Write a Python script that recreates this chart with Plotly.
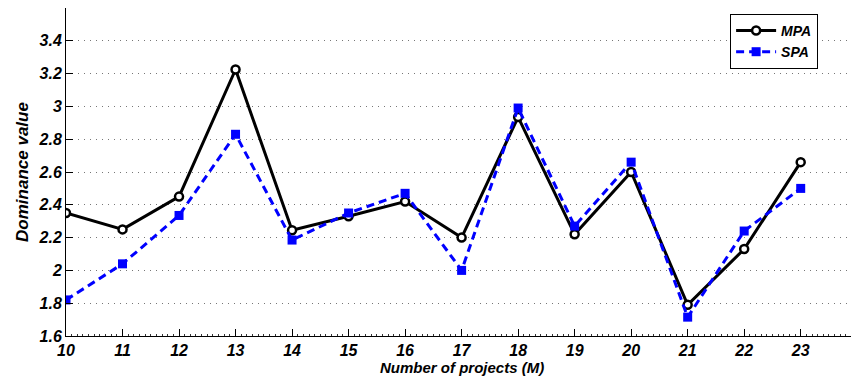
import plotly.graph_objects as go

projects = [10, 11, 12, 13, 14, 15, 16, 17, 18, 19, 20, 21, 22, 23]
mpa = [2.35, 2.25, 2.45, 3.225, 2.245, 2.33, 2.42, 2.20, 2.935, 2.22, 2.60, 1.79, 2.13, 2.66]
spa = [1.82, 2.04, 2.335, 2.83, 2.185, 2.35, 2.47, 2.00, 2.99, 2.27, 2.66, 1.715, 2.24, 2.50]
y_ticks = [1.6, 1.8, 2.0, 2.2, 2.4, 2.6, 2.8, 3.0, 3.2, 3.4]
y_tick_text = ["1.6", "1.8", "2", "2.2", "2.4", "2.6", "2.8", "3", "3.2", "3.4"]

FONT = "Liberation Sans, Arial, sans-serif"

fig = go.Figure()
fig.add_trace(go.Scatter(
    x=projects, y=mpa, name="MPA", mode="lines+markers",
    line=dict(color="black", width=3),
    marker=dict(symbol="circle", size=8, color="white",
                line=dict(color="black", width=2.5)),
))
fig.add_trace(go.Scatter(
    x=projects, y=spa, name="SPA", mode="lines+markers",
    line=dict(color="#0000ff", width=3, dash="8px,5px"),
    marker=dict(symbol="square", size=9, color="#0000ff",
                line=dict(color="#0000ff", width=0)),
))

fig.update_layout(
    width=851, height=376,
    margin=dict(l=66, r=0, t=8, b=40, autoexpand=False),
    paper_bgcolor="white", plot_bgcolor="white",
    font=dict(family=FONT, size=16, color="black", weight="bold", style="italic"),
    showlegend=True,
    legend=dict(
        x=0.846, y=0.982, xanchor="left", yanchor="top",
        bgcolor="white", bordercolor="black", borderwidth=1,
        font=dict(family=FONT, size=14, color="black", weight="bold", style="italic"),
        tracegroupgap=0, itemwidth=40,
    ),
    annotations=[dict(
        text="Number of projects (M)", xref="x", yref="paper",
        x=17, y=0, yshift=-31, yanchor="middle", showarrow=False,
        font=dict(family=FONT, size=15, color="black", weight="bold", style="italic"),
    )],
)

fig.update_xaxes(
    automargin=False,
    range=[10, 23.89], tickmode="array", tickvals=projects,
    ticks="inside", ticklen=7, tickcolor="black", tickwidth=1,
    showline=True, linecolor="black", linewidth=1,
    showgrid=False, zeroline=False,
    minor=dict(dtick=0.1, tick0=10, ticks="inside", ticklen=2, tickcolor="#333", showgrid=False),
    tickfont=dict(family=FONT, size=16, color="black", weight="bold", style="italic"),
)
fig.update_yaxes(
    automargin=False,
    range=[1.6, 3.6], tickmode="array", tickvals=y_ticks, ticktext=y_tick_text,
    ticks="inside", ticklen=7, tickcolor="black", tickwidth=1,
    showline=True, linecolor="black", linewidth=1,
    showgrid=True, gridcolor="#777", gridwidth=1, griddash="1px,5px",
    zeroline=False,
    title=dict(text="Dominance value", standoff=5,
               font=dict(family=FONT, size=17, color="black", weight="bold", style="italic")),
    tickfont=dict(family=FONT, size=16, color="black", weight="bold", style="italic"),
)

fig.write_html("out.html", config={"displayModeBar": False},
               post_script="document.body.style.margin='0';document.body.style.overflow='hidden';")
